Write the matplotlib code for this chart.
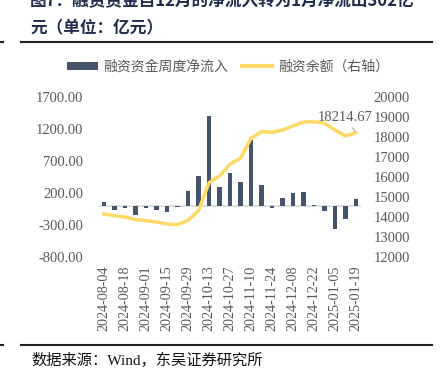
import matplotlib
matplotlib.use("Agg")
import matplotlib.pyplot as plt
import numpy as np
from matplotlib.lines import Line2D
from matplotlib.patches import Patch

weeks = ["2024-08-04", "2024-08-11", "2024-08-18", "2024-08-25", "2024-09-01", "2024-09-08",
         "2024-09-15", "2024-09-22", "2024-09-29", "2024-10-06", "2024-10-13", "2024-10-20",
         "2024-10-27", "2024-11-03", "2024-11-10", "2024-11-17", "2024-11-24", "2024-12-01",
         "2024-12-08", "2024-12-15", "2024-12-22", "2024-12-29", "2025-01-05", "2025-01-12",
         "2025-01-19"]
net_inflow = [60, -70, -40, -140, -30, -60, -100, -25, 235, 470, 1400, 300,
              520, 375, 1030, 323, -40, 120, 200, 214, 10, -80, -365, -208, 105]
balance = [14150, 14067, 14000, 13867, 13817, 13750, 13650, 13617, 13833, 14317, 15717, 16050,
           16650, 16933, 17933, 18267, 18233, 18350, 18550, 18750, 18767, 18683, 18350, 18050,
           18214.67]
left_ticks = [-800, -300, 200, 700, 1200, 1700]
right_ticks = [12000, 13000, 14000, 15000, 16000, 17000, 18000, 19000, 20000]
last_label = "18214.67"

BAR = "#44546A"
LINE = "#FFD966"
GRAY = "#595959"
SERIF = ["Liberation Serif", "Noto Sans CJK SC"]
CJK = ["Noto Sans CJK SC", "DejaVu Sans"]

fig = plt.figure(figsize=(4.4, 3.82), dpi=100)
W, H = 440, 382
ax = fig.add_axes([98.75 / W, 1 - 257 / H, (361.25 - 98.75) / W, (257 - 97) / H])
ax2 = ax.twinx()

x = np.arange(len(weeks))
ax.bar(x, net_inflow, width=0.45, color=BAR, zorder=3)
ax.axhline(0, color="#D9D9D9", lw=1.2, zorder=2)
ax2.plot(x, balance, color=LINE, lw=2.5, solid_joinstyle="round", zorder=4)

ax.set_xlim(-0.5, len(weeks) - 0.5)
ax.set_ylim(-800, 1700)
ax2.set_ylim(12000, 20000)
ax.set_yticks(left_ticks)
ax.set_yticklabels([f"{v:.2f}" for v in left_ticks])
ax2.set_yticks(right_ticks)
ax2.set_yticklabels([str(v) for v in right_ticks])
ax.set_xticks(x[::2])
ax.set_xticklabels(weeks[::2], rotation=90)

for a in (ax, ax2):
    for s in a.spines.values():
        s.set_visible(False)
    a.tick_params(length=0, colors=GRAY, labelsize=10.5)
    for lab in a.get_yticklabels() + a.get_xticklabels():
        lab.set_family(SERIF)
ax.tick_params(axis="y", pad=11)
ax2.tick_params(axis="y", pad=9)
ax.tick_params(axis="x", pad=6, labelsize=10.2)

ax2.annotate(last_label, xy=(x[-1], balance[-1]), xytext=(-8, 11), textcoords="offset points",
             ha="center", va="center", fontsize=10.5, family=SERIF, color=GRAY,
             arrowprops=dict(arrowstyle="-", color="#A6A6A6", lw=0.7, shrinkA=1, shrinkB=1),
             zorder=6)

handles = [Patch(facecolor=BAR, edgecolor="none"),
           Line2D([0], [0], color=LINE, lw=3)]
leg = fig.legend(handles, ["融资资金周度净流入", "融资余额（右轴）"], loc="center",
                 bbox_to_anchor=(228 / W, 1 - 67 / H), ncol=2, frameon=False,
                 prop={"family": CJK, "size": 10}, handlelength=2.2, handleheight=0.55,
                 columnspacing=1.0, handletextpad=0.4)
for t in leg.get_texts():
    t.set_color(GRAY)

# title (first line cut at top, as in the source page) and rules
fig.text(30 / W, 1 - 1 / H, "图7：融资资金自12月的净流入转为1月净流出302亿", ha="left", va="center",
         fontsize=12, fontweight="bold", family=CJK, color="#1F2D4D")
fig.text(30 / W, 1 - 28 / H, "元（单位：亿元）", ha="left", va="center",
         fontsize=12, fontweight="bold", family=CJK, color="#1F2D4D")
for yy in (42, 345):
    fig.add_artist(Line2D([21 / W, 432 / W], [1 - yy / H] * 2, color="#222222", lw=1.5))
    fig.add_artist(Line2D([0, 3 / W], [1 - yy / H] * 2, color="#222222", lw=1.5))
fig.text(31 / W, 1 - 360 / H, "数据来源：Wind，东吴证券研究所", ha="left", va="center",
         fontsize=11, family=SERIF, color="#111111")

fig.savefig("out.png", dpi=100)
